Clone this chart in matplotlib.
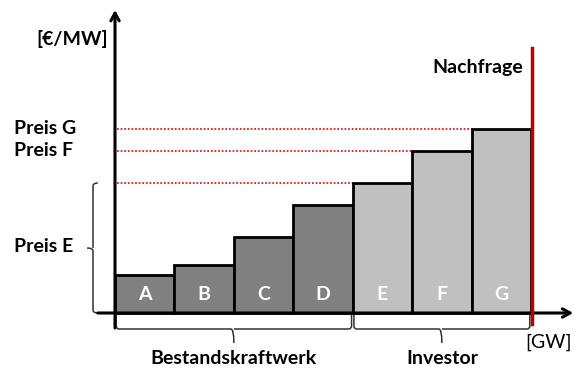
import matplotlib
matplotlib.use("Agg")
import matplotlib.pyplot as plt
from matplotlib.path import Path
from matplotlib.patches import PathPatch

# Merit order: plants, capacities (GW) and bid prices (€/MW)
plants = ["A", "B", "C", "D", "E", "F", "G"]
capacity = [1, 1, 1, 1, 1, 1, 1]
price = [19, 24, 38, 54, 65, 81, 92]
group = ["Bestand", "Bestand", "Bestand", "Bestand", "Investor", "Investor", "Investor"]
price_labels = {"E": "Preis E", "F": "Preis F", "G": "Preis G"}
group_labels = {"Bestand": "Bestandskraftwerk", "Investor": "Investor"}

DARK = "#808080"
LIGHT = "#C0C0C0"
RED = "#C00000"
DOT_RED = "#E02020"
FONT = "Lato"
FS = 14

fig = plt.figure(figsize=(5.74, 3.72), dpi=100)
ax = fig.add_axes([0, 0, 1, 1])
ax.set_xlim(-1.935, 7.723)
ax.set_ylim(-29.5, 156.5)
ax.axis("off")

# supply curve
lefts = []
x = 0
for c in capacity:
    lefts.append(x)
    x += c
total = x
colors = [DARK if g == "Bestand" else LIGHT for g in group]
ax.bar(lefts, price, width=capacity, align="edge", color=colors,
       edgecolor="black", linewidth=2, zorder=3)
for l, c, p, n in zip(lefts, capacity, price, plants):
    ax.text(l + c / 2, 9.5, n, ha="center", va="center", color="white",
            fontsize=FS, fontweight="bold", family=FONT, zorder=4)

# price levels of the investor plants
for l, p, n in zip(lefts, price, plants):
    if n in price_labels:
        ax.plot([0.03, l], [p, p], linestyle=(0, (1, 1)), color=DOT_RED,
                linewidth=1.3, zorder=2)
        if n != "E":
            ax.text(-1.70, p, price_labels[n], ha="left", va="center",
                    fontsize=FS, fontweight="bold", family=FONT)

# axes with open arrow heads
ax.annotate("", xy=(0, 151.5), xytext=(0, -7.5),
            arrowprops=dict(arrowstyle="->,head_length=0.55,head_width=0.3",
                            color="black", lw=2.2, shrinkA=0, shrinkB=0),
            zorder=5)
ax.annotate("", xy=(7.71, 0), xytext=(-0.29, 0),
            arrowprops=dict(arrowstyle="->,head_length=0.55,head_width=0.3",
                            color="black", lw=2.2, shrinkA=0, shrinkB=0),
            zorder=5)
ax.text(-0.12, 137, "[€/MW]", ha="right", va="center", fontsize=FS,
        fontweight="bold", family=FONT)
ax.text(7.68, -14.5, "[GW]", ha="right", va="center", fontsize=FS,
        family=FONT)

# demand
ax.plot([total + 0.02, total + 0.02], [-5.5, 132.5], color=RED, lw=2.5, zorder=6)
ax.text(6.87, 123, "Nachfrage", ha="right", va="center", fontsize=FS,
        fontweight="bold", family=FONT)


def hbrace(x0, x1, y0, y1, ytip):
    """Horizontal curly brace below the axis, opening upwards."""
    xm = (x0 + x1) / 2
    r = 0.05
    verts = [(x0, y0), (x0, y1 + 1.5), (x0, y1), (x0 + r, y1),
             (xm - r, y1), (xm, y1), (xm, ytip),
             (xm, y1), (xm + r, y1),
             (x1 - r, y1), (x1, y1), (x1, y1 + 1.5), (x1, y0)]
    codes = [Path.MOVETO, Path.LINETO, Path.CURVE3, Path.CURVE3,
             Path.LINETO, Path.CURVE3, Path.CURVE3,
             Path.MOVETO, Path.LINETO,
             Path.LINETO, Path.CURVE3, Path.CURVE3, Path.LINETO]
    ax.add_patch(PathPatch(Path(verts, codes), fill=False, lw=1.1,
                           edgecolor="#333333", zorder=2))


def vbrace(x0, x1, y0, y1, xtip):
    """Vertical curly brace left of the axis, opening to the right."""
    ym = (y0 + y1) / 2
    r = 1.5
    verts = [(x0, y0), (x1, y0), (x1, y0 + r),
             (x1, ym - r), (x1, ym), (xtip, ym),
             (x1, ym), (x1, ym + r),
             (x1, y1 - r), (x1, y1), (x0, y1)]
    codes = [Path.MOVETO, Path.CURVE3, Path.CURVE3,
             Path.LINETO, Path.CURVE3, Path.CURVE3,
             Path.MOVETO, Path.LINETO,
             Path.LINETO, Path.CURVE3, Path.CURVE3]
    ax.add_patch(PathPatch(Path(verts, codes), fill=False, lw=1.1,
                           edgecolor="#333333", zorder=2))


# group braces under the x axis
for g in ["Bestand", "Investor"]:
    idx = [i for i, gg in enumerate(group) if gg == g]
    x0 = lefts[idx[0]] + 0.02
    x1 = lefts[idx[-1]] + capacity[idx[-1]] - 0.02
    hbrace(x0, x1, 0, -8, -15)
    ax.text((x0 + x1) / 2, -22.5, group_labels[g], ha="center", va="center",
            fontsize=FS, fontweight="bold", family=FONT)

# brace spanning the price range up to Preis E
iE = plants.index("E")
vbrace(-0.29, -0.37, 0, price[iE], -0.47)
ax.text(-1.70, 33, price_labels["E"], ha="left", va="center",
        fontsize=FS, fontweight="bold", family=FONT)

fig.savefig("out.png", dpi=100)
